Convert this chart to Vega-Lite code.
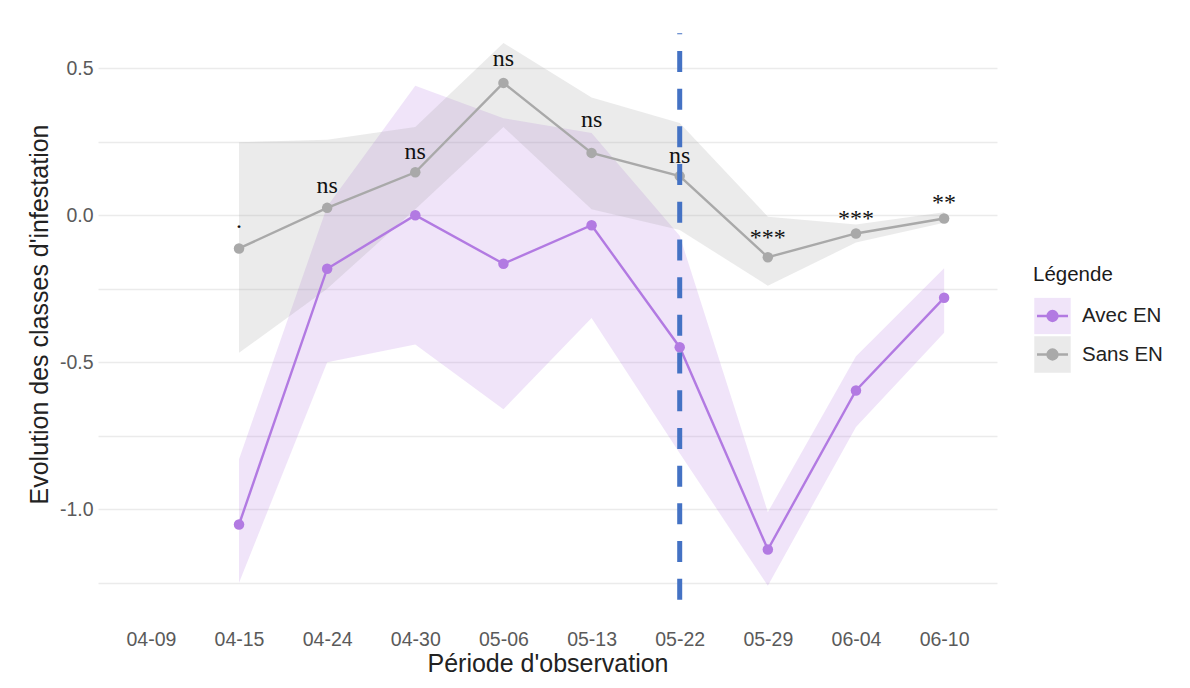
{
  "$schema": "https://vega.github.io/schema/vega-lite/v6.json",
  "width": 899,
  "height": 598,
  "autosize": {"type": "none"},
  "padding": {"left": 98, "top": 15, "right": 193, "bottom": 75},
  "background": "white",
  "config": {
    "font": "Liberation Sans",
    "view": {"stroke": null},
    "axis": {
      "domain": false,
      "ticks": false,
      "gridColor": "#ebebeb",
      "gridWidth": 1.6,
      "labelFont": "Liberation Sans",
      "labelFontSize": 19.5,
      "labelColor": "#5a5a5a",
      "titleFont": "Liberation Sans",
      "titleFontSize": 25,
      "titleFontWeight": "normal",
      "titleColor": "#222222"
    },
    "legend": {
      "labelFont": "Liberation Sans",
      "titleFont": "Liberation Sans",
      "labelFontSize": 20.5,
      "titleFontSize": 20.5,
      "titleFontWeight": "normal",
      "labelColor": "#222222",
      "titleColor": "#1a1a1a",
      "labelOffset": 10,
      "titlePadding": 12,
      "rowPadding": 1.5,
      "clipHeight": 37,
      "padding": 0
    }
  },
  "datasets": {
    "series": [
      {"date": "04-15", "group": "Avec EN", "mean": -1.052, "lo": -1.25, "hi": -0.83},
      {"date": "04-24", "group": "Avec EN", "mean": -0.182, "lo": -0.50, "hi": 0.03},
      {"date": "04-30", "group": "Avec EN", "mean": 0.0, "lo": -0.44, "hi": 0.44},
      {"date": "05-06", "group": "Avec EN", "mean": -0.165, "lo": -0.66, "hi": 0.33},
      {"date": "05-13", "group": "Avec EN", "mean": -0.034, "lo": -0.35, "hi": 0.28},
      {"date": "05-22", "group": "Avec EN", "mean": -0.449, "lo": -0.81, "hi": -0.07},
      {"date": "05-29", "group": "Avec EN", "mean": -1.137, "lo": -1.26, "hi": -1.01},
      {"date": "06-04", "group": "Avec EN", "mean": -0.596, "lo": -0.72, "hi": -0.48},
      {"date": "06-10", "group": "Avec EN", "mean": -0.281, "lo": -0.40, "hi": -0.18},
      {"date": "04-15", "group": "Sans EN", "mean": -0.113, "lo": -0.468, "hi": 0.248},
      {"date": "04-24", "group": "Sans EN", "mean": 0.025, "lo": -0.25, "hi": 0.257},
      {"date": "04-30", "group": "Sans EN", "mean": 0.146, "lo": 0.02, "hi": 0.30},
      {"date": "05-06", "group": "Sans EN", "mean": 0.450, "lo": 0.30, "hi": 0.586},
      {"date": "05-13", "group": "Sans EN", "mean": 0.212, "lo": 0.02, "hi": 0.40},
      {"date": "05-22", "group": "Sans EN", "mean": 0.133, "lo": -0.05, "hi": 0.314},
      {"date": "05-29", "group": "Sans EN", "mean": -0.143, "lo": -0.24, "hi": -0.005},
      {"date": "06-04", "group": "Sans EN", "mean": -0.062, "lo": -0.093, "hi": -0.032},
      {"date": "06-10", "group": "Sans EN", "mean": -0.011, "lo": -0.026, "hi": 0.01}
    ],
    "labels": [
      {"date": "04-15", "label": ".", "ly": -0.042},
      {"date": "04-24", "label": "ns", "ly": 0.076},
      {"date": "04-30", "label": "ns", "ly": 0.192},
      {"date": "05-06", "label": "ns", "ly": 0.509},
      {"date": "05-13", "label": "ns", "ly": 0.301},
      {"date": "05-22", "label": "ns", "ly": 0.176},
      {"date": "05-29", "label": "***", "ly": -0.102},
      {"date": "06-04", "label": "***", "ly": -0.038},
      {"date": "06-10", "label": "**", "ly": 0.017}
    ],
    "vline": [
      {"date": "05-22", "ytop": 0.619, "ybot": -1.311}
    ]
  },
  "layer": [
    {
      "data": {"name": "series"},
      "mark": {"type": "area", "opacity": 0.2},
      "encoding": {
        "x": {
          "field": "date", "type": "ordinal", "title": "Période d'observation",
          "scale": {"type": "point", "padding": 0.6, "domain": ["04-09", "04-15", "04-24", "04-30", "05-06", "05-13", "05-22", "05-29", "06-04", "06-10"]},
          "axis": {"labelAngle": 0, "labelPadding": 17.5, "titleY": 58, "titleBaseline": "alphabetic"}
        },
        "y": {
          "field": "lo", "type": "quantitative", "title": "Evolution des classes d'infestation",
          "scale": {"domain": [-1.353, 0.681], "nice": false, "zero": false},
          "axis": {
            "values": [-1.25, -1, -0.75, -0.5, -0.25, 0, 0.25, 0.5],
            "labelExpr": "abs(datum.value*2 - round(datum.value*2)) < 0.001 ? replace(format(datum.value, '.1f'), '\u2212', '-') : ''",
            "labelPadding": 5,
            "titleX": -51,
            "titleY": 299,
            "titleBaseline": "alphabetic"
          }
        },
        "y2": {"field": "hi"},
        "fill": {
          "field": "group", "type": "nominal",
          "scale": {"domain": ["Avec EN", "Sans EN"], "range": ["#b27ae2", "#9c9c9c"]},
          "legend": {
            "title": "Légende",
            "orient": "none",
            "legendX": 935,
            "legendY": 250,
            "symbolType": "square",
            "symbolSize": 1330,
            "symbolOpacity": 0.2,
            "symbolStrokeColor": "transparent",
            "symbolStrokeWidth": 2.5
          }
        }
      }
    },
    {
      "data": {"name": "series"},
      "mark": {"type": "line", "strokeWidth": 2.4},
      "encoding": {
        "x": {"field": "date", "type": "ordinal", "title": "Période d'observation"},
        "y": {"field": "mean", "type": "quantitative", "title": "Evolution des classes d'infestation"},
        "color": {
          "field": "group", "type": "nominal",
          "scale": {"range": ["#b27ae2", "#a9a9a9"]},
          "legend": {
            "title": "Légende",
            "titleOpacity": 0,
            "labelOpacity": 0,
            "orient": "none",
            "legendX": 935,
            "legendY": 250,
            "symbolType": "M-0.85,0H0.85M0.27,0A0.27,0.27,0,1,1,-0.27,0A0.27,0.27,0,1,1,0.27,0Z",
            "symbolSize": 1330,
            "symbolStrokeWidth": 2.5
          }
        }
      }
    },
    {
      "data": {"name": "series"},
      "mark": {"type": "point", "filled": true, "size": 110, "opacity": 1},
      "encoding": {
        "x": {"field": "date", "type": "ordinal", "title": "Période d'observation"},
        "y": {"field": "mean", "type": "quantitative", "title": "Evolution des classes d'infestation"},
        "color": {"field": "group", "type": "nominal"}
      }
    },
    {
      "data": {"name": "vline"},
      "mark": {"type": "rule", "color": "#4472c4", "strokeWidth": 5, "strokeDash": [21, 16.7], "strokeDashOffset": 20},
      "encoding": {
        "x": {"field": "date", "type": "ordinal", "title": "Période d'observation"},
        "y": {"field": "ytop", "type": "quantitative", "title": "Evolution des classes d'infestation"},
        "y2": {"field": "ybot"}
      }
    },
    {
      "data": {"name": "labels"},
      "mark": {"type": "text", "font": "Liberation Serif", "fontSize": 24, "baseline": "alphabetic", "color": "#111111"},
      "encoding": {
        "x": {"field": "date", "type": "ordinal", "title": "Période d'observation"},
        "y": {"field": "ly", "type": "quantitative", "title": "Evolution des classes d'infestation"},
        "text": {"field": "label"}
      }
    }
  ]
}
